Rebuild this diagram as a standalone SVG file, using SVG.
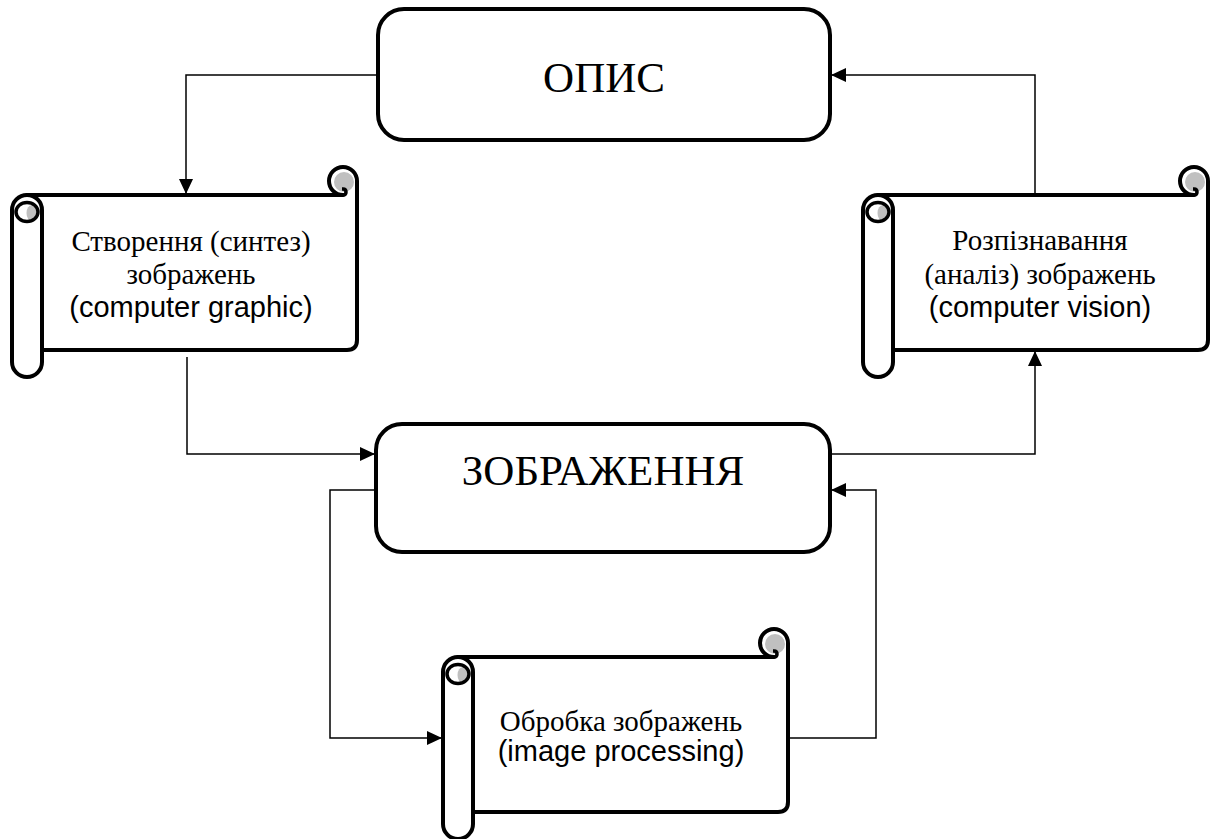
<svg xmlns="http://www.w3.org/2000/svg" width="1210" height="839" viewBox="0 0 1210 839">
<style>
.box{fill:#fff;stroke:#000;stroke-width:4}
.sc{fill:#fff;stroke:#000;stroke-width:4;stroke-linejoin:round}
.conn{fill:none;stroke:#000;stroke-width:1.5}
.t{font-family:"Liberation Serif","Times New Roman",serif;fill:#000;text-anchor:middle}
.a{font-family:"Liberation Sans",Arial,sans-serif;fill:#000;text-anchor:middle}
</style>
<defs>
<marker id="arr" markerUnits="userSpaceOnUse" markerWidth="16" markerHeight="14" refX="15" refY="7" orient="auto">
<path d="M0,0 L15,7 L0,14 Z" fill="#000"/>
</marker>
<g id="scroll">
<path class="sc" d="M15 0 H331 A14 14 0 1 1 345 -14 V145 Q345 155 335 155 H15 Z"/>
<circle cx="332" cy="-13" r="10" fill="#c0c0c0"/>
<path d="M318 0 H331 Q334 0 334 -3 Q334 -6 331 -6 H330" fill="none" stroke="#000" stroke-width="3.5"/>
<rect class="sc" x="0" y="0" width="30" height="182" rx="15" ry="15"/>
<ellipse cx="15" cy="17" rx="11" ry="9.5" fill="#fff"/>
<ellipse cx="20" cy="18" rx="5.5" ry="8" fill="#c0c0c0"/>
<ellipse cx="15" cy="17" rx="11" ry="9.5" fill="none" stroke="#000" stroke-width="3.5"/>
</g>
</defs>

<g id="connectors">
<path class="conn" d="M378 75 H186 V194" marker-end="url(#arr)"/>
<path class="conn" d="M187 357 V454 H375" marker-end="url(#arr)"/>
<path class="conn" d="M830 454 H1035 V351" marker-end="url(#arr)"/>
<path class="conn" d="M1035 195 V75 H831" marker-end="url(#arr)"/>
<path class="conn" d="M376 490 H330 V738 H442" marker-end="url(#arr)"/>
<path class="conn" d="M787 738 H876 V490 H831" marker-end="url(#arr)"/>
</g>

<g id="opys">
<rect class="box" x="378" y="9" width="452" height="131" rx="26" ry="26"/>
<text class="t" x="604" y="92" font-size="43">ОПИС</text>
</g>

<g id="zobrazhennia">
<rect class="box" x="376" y="424" width="454" height="128" rx="26" ry="26"/>
<text class="t" x="603" y="485" font-size="43">ЗОБРАЖЕННЯ</text>
</g>

<g id="synthesis">
<use href="#scroll" transform="translate(12,195)"/>
<text class="t" x="191" y="251" font-size="29">Створення (синтез)</text>
<text class="t" x="191" y="284" font-size="29">зображень</text>
<text class="a" x="191" y="317" font-size="29">(computer graphic)</text>
</g>

<g id="analysis">
<use href="#scroll" transform="translate(863,195)"/>
<text class="t" x="1040" y="250" font-size="29">Розпізнавання</text>
<text class="t" x="1040" y="284" font-size="29">(аналіз) зображень</text>
<text class="a" x="1040" y="317" font-size="29">(computer vision)</text>
</g>

<g id="processing">
<use href="#scroll" transform="translate(443,657)"/>
<text class="t" x="621" y="731" font-size="29">Обробка зображень</text>
<text class="a" x="621" y="761" font-size="29">(image processing)</text>
</g>
</svg>
